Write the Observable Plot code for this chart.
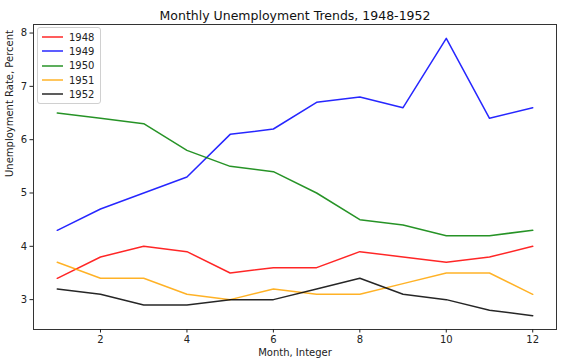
<!DOCTYPE html>
<html>
<head>
<meta charset="utf-8">
<script src="https://cdn.jsdelivr.net/npm/d3@7"></script>
<script src="https://cdn.jsdelivr.net/npm/@observablehq/plot@0.6"></script>
<style>
  html, body { margin: 0; padding: 0; background: white; }
  #wrap { position: relative; width: 562px; height: 363px; font-family: "DejaVu Sans", sans-serif; }
  #legend { position: absolute; left: 37px; top: 27px; border: 1px solid #d0d0d0; border-radius: 3px;
    background: rgba(255,255,255,0.8); padding: 2px 6px 2px 4px; font-size: 10px; color: #222; }
  .item { display: flex; align-items: center; height: 14.3px; }
  .swatch { display: block; margin-right: 6px; }
</style>
</head>
<body>
<div id="wrap"><div id="legend"></div></div>
<script>
const months = [1, 2, 3, 4, 5, 6, 7, 8, 9, 10, 11, 12];
const years = ["1948", "1949", "1950", "1951", "1952"];
const rate1948 = [3.4, 3.8, 4.0, 3.9, 3.5, 3.6, 3.6, 3.9, 3.8, 3.7, 3.8, 4.0];
const rate1949 = [4.3, 4.7, 5.0, 5.3, 6.1, 6.2, 6.7, 6.8, 6.6, 7.9, 6.4, 6.6];
const rate1950 = [6.5, 6.4, 6.3, 5.8, 5.5, 5.4, 5.0, 4.5, 4.4, 4.2, 4.2, 4.3];
const rate1951 = [3.7, 3.4, 3.4, 3.1, 3.0, 3.2, 3.1, 3.1, 3.3, 3.5, 3.5, 3.1];
const rate1952 = [3.2, 3.1, 2.9, 2.9, 3.0, 3.0, 3.2, 3.4, 3.1, 3.0, 2.8, 2.7];
const colors = ["red", "blue", "green", "orange", "black"];
const xTicks = [2, 4, 6, 8, 10, 12];
const yTicks = [3, 4, 5, 6, 7, 8];
const title = "Monthly Unemployment Trends, 1948-1952";
const xLabel = "Month, Integer";
const yLabel = "Unemployment Rate, Percent";

const allRates = [rate1948, rate1949, rate1950, rate1951, rate1952];
const data = years.flatMap((yr, i) => allRates[i].map((v, j) => ({year: yr, month: months[j], rate: v})));

const chart = Plot.plot({
  width: 562,
  height: 363,
  marginLeft: 33,
  marginRight: 6,
  marginTop: 24,
  marginBottom: 34,
  style: {fontFamily: "DejaVu Sans", fontSize: "10px", background: "white", color: "#222"},
  x: {domain: [0.45, 12.55]},
  y: {domain: [2.44, 8.16]},
  color: {domain: years, range: colors},
  marks: [
    Plot.line(data, {x: "month", y: "rate", z: "year", stroke: "year", strokeWidth: 1.5, strokeOpacity: 0.85}),
    Plot.frame({stroke: "#333", strokeWidth: 1}),
    Plot.axisX({ticks: xTicks, tickSize: 3.5, tickPadding: 3, label: null, tickFormat: d3.format("d")}),
    Plot.axisY({ticks: yTicks, tickSize: 3.5, tickPadding: 3, label: null, tickFormat: d3.format("d")}),
    Plot.text([title], {frameAnchor: "top", dy: -13, fontSize: 12.5, fill: "#111"}),
    Plot.text([xLabel], {frameAnchor: "bottom", dy: 26, fontSize: 10}),
    Plot.text([yLabel], {frameAnchor: "left", dx: -24, rotate: -90, fontSize: 10})
  ]
});
const wrap = document.getElementById("wrap");
wrap.insertBefore(chart, wrap.firstChild);

const legend = document.getElementById("legend");
const svgNS = "http://www.w3.org/2000/svg";
years.forEach((yr, i) => {
  const item = document.createElement("div");
  item.className = "item";
  const sw = document.createElementNS(svgNS, "svg");
  sw.setAttribute("class", "swatch");
  sw.setAttribute("width", "21");
  sw.setAttribute("height", "4");
  const ln = document.createElementNS(svgNS, "line");
  ln.setAttribute("x1", "0"); ln.setAttribute("x2", "21");
  ln.setAttribute("y1", "2"); ln.setAttribute("y2", "2");
  ln.setAttribute("stroke", colors[i]);
  ln.setAttribute("stroke-width", "1.5");
  ln.setAttribute("stroke-opacity", "0.85");
  sw.appendChild(ln);
  const t = document.createElement("span");
  t.textContent = yr;
  item.appendChild(sw);
  item.appendChild(t);
  legend.appendChild(item);
});
</script>
</body>
</html>
